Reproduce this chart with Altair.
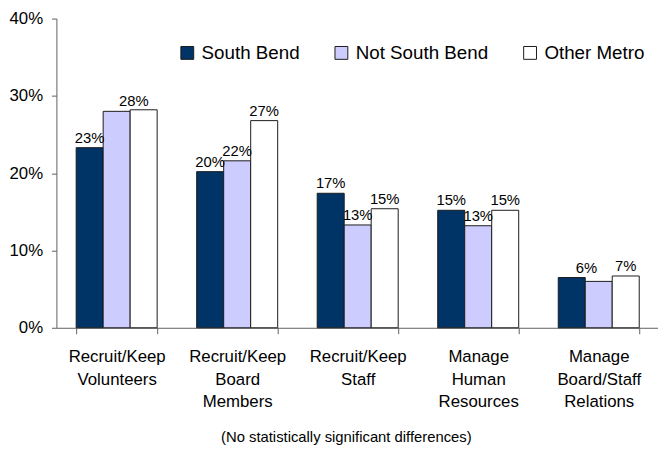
import altair as alt
import pandas as pd

FONT = "Liberation Sans"

categories = [
    "Recruit/Keep\nVolunteers",
    "Recruit/Keep\nBoard\nMembers",
    "Recruit/Keep\nStaff",
    "Manage\nHuman\nResources",
    "Manage\nBoard/Staff\nRelations",
]
series = ["South Bend", "Not South Bend", "Other Metro"]
south_bend = [23.3, 20.2, 17.4, 15.2, 6.5]
not_south_bend = [28.0, 21.6, 13.3, 13.2, 6.0]
other_metro = [28.2, 26.8, 15.4, 15.2, 6.7]
south_bend_labels = ["23%", "20%", "17%", "15%", "6%"]
not_south_bend_labels = ["", "22%", "13%", "13%", ""]
other_metro_labels = ["28%", "27%", "15%", "15%", "7%"]
colors = ["#003366", "#CCCCFF", "#FFFFFF"]
y_ticks = [0, 10, 20, 30, 40]
note = "(No statistically significant differences)"

rows = []
for s, vals, labs in zip(series,
                         [south_bend, not_south_bend, other_metro],
                         [south_bend_labels, not_south_bend_labels, other_metro_labels]):
    for c, v, l in zip(categories, vals, labs):
        rows.append({"category": c, "series": s, "value": v, "label": l})
df = pd.DataFrame(rows)

x_enc = alt.X(
    "category:N",
    sort=categories,
    scale=alt.Scale(range=[0, 610], paddingInner=0.328, paddingOuter=0.164),
    axis=alt.Axis(
        title=note,
        titleFont=FONT, titleFontSize=15, titleFontWeight="normal", titleColor="black",
        titleX=293, titleY=115.5, titleAlign="center", titleBaseline="alphabetic",
        labelExpr="split(datum.label, '\\n')",
        labelFont=FONT, labelFontSize=17, labelColor="black", labelAngle=0,
        labelLineHeight=22.5, labelPadding=15.5, labelBaseline="top",
        tickBand="extent", tickSize=6, tickColor="#606060",
        domainColor="#606060", grid=False,
    ),
)
x_off = alt.XOffset("series:N", sort=series,
                    scale=alt.Scale(domain=series, paddingInner=0, paddingOuter=0))
y_enc = alt.Y(
    "value:Q",
    scale=alt.Scale(domain=[0, 40], nice=False),
    axis=alt.Axis(
        title=None, values=y_ticks, labelExpr="datum.value + '%'",
        labelFont=FONT, labelFontSize=17, labelColor="black", labelPadding=9,
        tickSize=5, tickColor="#606060", domainColor="#606060", grid=False,
    ),
)
color_enc = alt.Color(
    "series:N", sort=series,
    scale=alt.Scale(domain=series, range=colors),
    legend=alt.Legend(
        title=None, orient="none", legendX=123, legendY=25, direction="horizontal",
        symbolType="square", symbolSize=169, symbolStrokeColor="#1a1a1a",
        symbolStrokeWidth=1, symbolOpacity=1,
        labelFont=FONT, labelFontSize=19, labelColor="black", labelOffset=5,
        columnPadding=32, padding=0,
    ),
)

base = alt.Chart(df)
bars = base.mark_bar(stroke="#1a1a1a", strokeWidth=1).encode(
    x=x_enc, xOffset=x_off, y=y_enc, color=color_enc
)

text_style = dict(baseline="alphabetic", fontSize=15, font=FONT, color="black")
is_28 = "datum.series == 'Other Metro' && indexof(datum.category, 'Volunteers') >= 0"
is_6 = "datum.series == 'South Bend' && indexof(datum.category, 'Relations') >= 0"

labels = base.mark_text(dy=-5, **text_style).encode(
    x=x_enc, xOffset=x_off, y=y_enc, text="label:N"
).transform_filter(f"datum.label != '' && !({is_28}) && !({is_6})")
label_28 = base.mark_text(dy=-4, dx=-10, **text_style).encode(
    x=x_enc, xOffset=x_off, y=y_enc, text="label:N"
).transform_filter(is_28)
label_6 = base.mark_text(dy=-5, dx=15, **text_style).encode(
    x=x_enc, xOffset=x_off, y=y_enc, text="label:N"
).transform_filter(is_6)

chart = alt.layer(bars, labels, label_28, label_6).properties(
    width=609, height=313,
    padding={"left": 49, "top": 8, "right": 0, "bottom": 120},
    autosize=alt.AutoSizeParams(type="none"),
).configure_view(stroke=None)

chart.save("out.html", embed_options={"renderer": "svg", "actions": False})
